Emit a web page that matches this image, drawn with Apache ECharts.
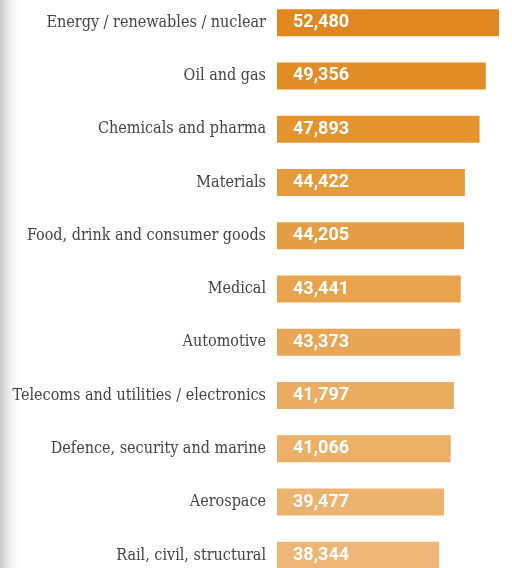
<!DOCTYPE html>
<html>
<head>
<meta charset="utf-8">
<script src="https://cdn.jsdelivr.net/npm/echarts@6/dist/echarts.min.js"></script>
<style>
  html, body { margin: 0; padding: 0; background: #fff; }
  #chart { width: 512px; height: 568px; }
</style>
</head>
<body>
<div id="chart"></div>
<script>
// Sectors, ordered from highest to lowest
const sectors = [
  'Energy / renewables / nuclear',
  'Oil and gas',
  'Chemicals and pharma',
  'Materials',
  'Food, drink and consumer goods',
  'Medical',
  'Automotive',
  'Telecoms and utilities / electronics',
  'Defence, security and marine',
  'Aerospace',
  'Rail, civil, structural'
];

// Average value per sector
const values = [52480, 49356, 47893, 44422, 44205, 43441, 43373, 41797, 41066, 39477, 38344];

// Bar fills, darkest orange at the top fading lighter downwards
const barColors = [
  '#E0881F', '#E18C24', '#E4942F', '#E59A3C', '#E69E44', '#E8A34E',
  '#E8A654', '#EBAD62', '#EBAF67', '#ECB36F', '#EDB677'
];

const chart = echarts.init(document.getElementById('chart'));

chart.setOption({
  animation: false,
  graphic: [{
    type: 'rect',
    left: 0,
    top: 0,
    shape: { width: 22, height: 568 },
    style: {
      fill: new echarts.graphic.LinearGradient(0, 0, 1, 0, [
        { offset: 0, color: '#c4c4c4' },
        { offset: 1, color: 'rgba(255,255,255,0)' }
      ])
    },
    silent: true
  }],
  grid: {
    left: 277,
    right: 13,
    top: -4,
    height: 586,
    outerBoundsMode: 'none',
    containLabel: false
  },
  xAxis: {
    type: 'value',
    min: 0,
    max: 52480,
    show: false
  },
  yAxis: {
    type: 'category',
    data: sectors,
    inverse: true,
    axisLine: { show: false },
    axisTick: { show: false },
    axisLabel: {
      margin: 11,
      color: '#444',
      fontFamily: 'DejaVu Serif Condensed',
      fontSize: 16,
      fontWeight: 300
    }
  },
  series: [{
    type: 'bar',
    data: values.map((v, i) => ({ value: v, itemStyle: { color: barColors[i] } })),
    barWidth: 27,
    label: {
      show: true,
      position: 'insideLeft',
      distance: 16,
      color: '#fff',
      fontFamily: 'Roboto',
      fontWeight: 'bold',
      fontSize: 18,
      formatter: p => p.value.toLocaleString('en-US')
    }
  }]
});
</script>
</body>
</html>
